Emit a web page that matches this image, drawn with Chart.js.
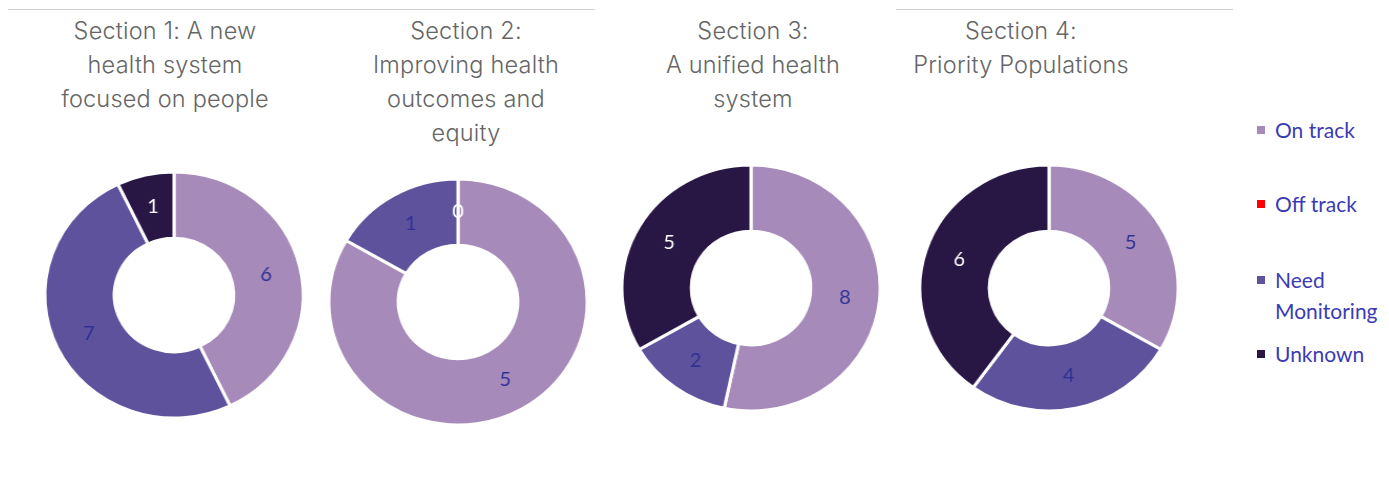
<!DOCTYPE html>
<html>
<head>
<meta charset="utf-8">
<script src="https://cdn.jsdelivr.net/npm/chart.js@4"></script>
<style>
    body { margin: 0; background: #fff; width: 1389px; height: 498px; position: relative; overflow: hidden; font-family: 'Inter', sans-serif; }
    .rule { position: absolute; top: 9px; height: 1px; background: #d0d0d0; }
    .title { position: absolute; top: 14px; width: 320px; text-align: center; color: #666666; font-size: 23.5px; letter-spacing: 0.2px; line-height: 34px; font-weight: 300; }
    .donut { position: absolute; width: 300px; height: 280px; transform: scaleX(1.05); }
    #legend { position: absolute; left: 1257px; top: 0; font-family: 'Lato', sans-serif; font-size: 21px; color: #3b3bb4; }
    .item { position: absolute; left: 0; width: 132px; display: flex; align-items: flex-start; line-height: 31px; }
    .box { width: 8px; height: 8px; margin: 12px 10px 0 0; flex: none; }
</style>
</head>
<body>
<div class="rule" style="left:8px;width:587px"></div>
<div class="rule" style="left:896px;width:337px"></div>

<div class="title" style="left:5px">Section 1: A new<br>health system<br>focused on people</div>
<div class="title" style="left:306px">Section 2:<br>Improving health<br>outcomes and<br>equity</div>
<div class="title" style="left:593px">Section 3:<br>A unified health<br>system</div>
<div class="title" style="left:861px">Section 4:<br>Priority Populations</div>

<div class="donut" style="left:24px;top:155px"><canvas id="c1"></canvas></div>
<div class="donut" style="left:308px;top:162px"><canvas id="c2"></canvas></div>
<div class="donut" style="left:601px;top:148px"><canvas id="c3"></canvas></div>
<div class="donut" style="left:899px;top:148px"><canvas id="c4"></canvas></div>

<div id="legend"></div>

<script>
const statuses = ['On track', 'Off track', 'Need Monitoring', 'Unknown'];
const statusColors = ['#a68ab9', '#ff0000', '#5f529d', '#281645'];
const labelColors = ['#2f3193', '#2f3193', '#2f3193', '#ffffff'];

const section1 = [6, 0, 7, 1];
const section2 = [5, 0, 1, 0];
const section3 = [8, 0, 2, 5];
const section4 = [5, 0, 4, 6];

// draws the value in the middle of each ring segment
const valueLabels = {
    id: 'valueLabels',
    afterDatasetsDraw(chart) {
        const ctx = chart.ctx;
        const meta = chart.getDatasetMeta(0);
        const values = chart.data.datasets[0].data;
        ctx.save();
        ctx.font = '19px Lato, sans-serif';
        ctx.textAlign = 'center';
        ctx.textBaseline = 'middle';
        meta.data.forEach(function(arc, i) {
            if (values[i] === 0 && i === 1) return; // off track zeros are not shown
            const pos = arc.tooltipPosition();
            ctx.fillStyle = labelColors[i];
            ctx.fillText(values[i], pos.x, pos.y);
        });
        ctx.restore();
    }
};

function makeDonut(id, values) {
    const ctx = document.getElementById(id).getContext('2d');
    new Chart(ctx, {
        type: 'doughnut',
        data: {
            labels: statuses,
            datasets: [{
                data: values,
                backgroundColor: statusColors,
                borderColor: '#ffffff',
                borderWidth: 3
            }]
        },
        options: {
            responsive: true,
            maintainAspectRatio: false,
            animation: false,
            radius: 123,
            cutout: 64,
            plugins: {
                legend: { display: false },
                tooltip: { enabled: false }
            }
        },
        plugins: [valueLabels]
    });
}

makeDonut('c1', section1);
makeDonut('c2', section2);
makeDonut('c3', section3);
makeDonut('c4', section4);

// legend on the right
const legendTops = [114, 188, 264, 338];
const legend = document.getElementById('legend');
statuses.forEach(function(name, i) {
    const item = document.createElement('div');
    item.className = 'item';
    item.style.top = legendTops[i] + 'px';
    item.innerHTML = '<span class="box" style="background:' + statusColors[i] + '"></span><span>' + name + '</span>';
    legend.appendChild(item);
});
</script>
</body>
</html>
